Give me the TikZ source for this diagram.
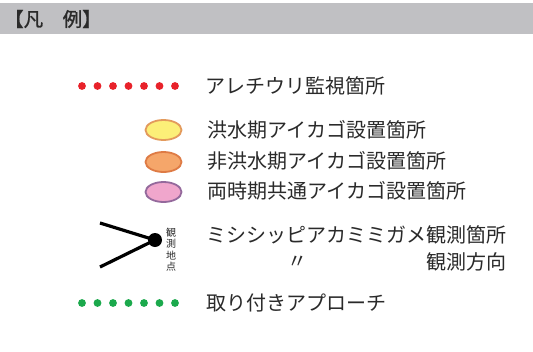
\documentclass[tikz,border=0pt]{standalone}
\usepackage{fontspec}
\usetikzlibrary{shapes.geometric}
\newfontfamily\jp{Noto Sans CJK JP}
\newfontfamily\jpb[FakeBold=1.2]{Noto Sans CJK JP}
\definecolor{bandgray}{HTML}{C0C0C3}
\definecolor{txt}{HTML}{2A2A2A}
\definecolor{dotred}{HTML}{E8222A}
\definecolor{dotgreen}{HTML}{1BA94C}
\definecolor{yfill}{HTML}{FCEF78}
\definecolor{ydraw}{HTML}{E39A5C}
\definecolor{ofill}{HTML}{F5A66A}
\definecolor{odraw}{HTML}{DE7B45}
\definecolor{pfill}{HTML}{F0A6CC}
\definecolor{pdraw}{HTML}{94699C}
\begin{document}
\begin{tikzpicture}[x=1pt,y=-1pt,
  label/.style={anchor=west,inner sep=0pt,font=\jp\fontsize{20}{22}\selectfont,text=txt},
  legdot/.style={circle,inner sep=0pt,minimum size=7.8pt},
  cago/.style={ellipse,minimum width=36pt,minimum height=20pt,line width=1.8pt,inner sep=0pt}]
\useasboundingbox (0,0) rectangle (533,351);
\fill[white] (0,0) rectangle (533,351);
% header
\fill[bandgray] (0,3) rectangle (533,34);
\node[anchor=west,inner sep=0pt,font=\jpb\fontsize{19.5}{20}\selectfont,text=txt] (title) at (4,19) {【凡　例】};
% red dotted line
\foreach \i in {0,...,6} {
  \node[legdot,fill=dotred] (r\i) at (82+15.5*\i,86) {};
}
\node[label] (tr) at (205,86) {アレチウリ監視箇所};
% ellipses
\node[cago,fill=yfill,draw=ydraw] (ey) at (163.5,130) {};
\node[cago,fill=ofill,draw=odraw] (eo) at (163.5,162) {};
\node[cago,fill=pfill,draw=pdraw] (ep) at (163.5,192) {};
\node[label] (ty) at (207,130) {洪水期アイカゴ設置箇所};
\node[label] (to) at (207,161) {非洪水期アイカゴ設置箇所};
\node[label] (tp) at (207,191) {両時期共通アイカゴ設置箇所};
% observation symbol
\coordinate (la) at (100,223);
\coordinate (lb) at (100,267);
\node[circle,fill=black,inner sep=0pt,minimum size=14pt] (obs) at (155,240) {};
\draw[line width=3.2pt] (la) -- (obs.center);
\draw[line width=3.2pt] (lb) -- (obs.center);
\node[align=center,inner sep=0pt,font=\jp\fontsize{10}{11.5}\selectfont,text=txt] (vt) at (171,249.5) {観\\測\\地\\点};
\node[label] (tm) at (206,235) {ミシシッピアカミミガメ観測箇所};
\node[label,anchor=center] (tdit) at (297,262) {〃};
\node[label,anchor=east] (tdir) at (tm.east |- 0,262) {観測方向};
% green dotted line
\foreach \i in {0,...,6} {
  \node[legdot,fill=dotgreen] (g\i) at (82+15.5*\i,303) {};
}
\node[label] (tg) at (206,303) {取り付きアプローチ};
\end{tikzpicture}
\end{document}
